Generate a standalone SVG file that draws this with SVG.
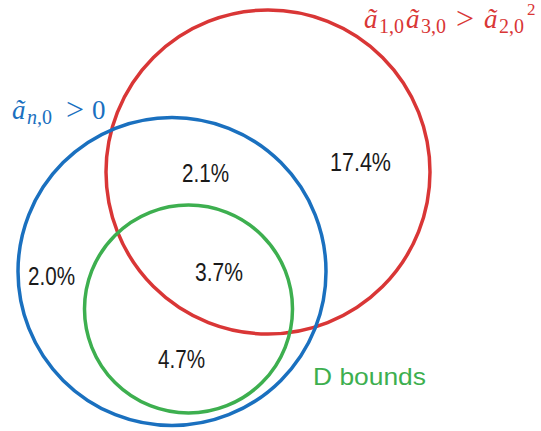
<svg xmlns="http://www.w3.org/2000/svg" width="541" height="431" viewBox="0 0 541 431">
<style>
.c{fill:none;stroke-width:3.5}
.pct{font-family:"Liberation Sans",Arial,sans-serif;font-size:25px;fill:#1a1a1a}
.m{font-family:"Liberation Serif","DejaVu Serif",serif;font-size:27px}
.i{font-style:italic}
.s{font-size:20px}
.sup{font-size:17px}
.gt{font-size:32px}
</style>
<rect width="541" height="431" fill="#ffffff"/>
<g id="red-set">
<circle class="c" cx="268" cy="172" r="162" stroke="#d93636"/>
<text class="m" fill="#d93636"><tspan class="i" x="364" y="28">ã</tspan><tspan class="s" x="379" y="33">1,0</tspan><tspan class="i" x="406" y="28">ã</tspan><tspan class="s" x="421" y="33">3,0</tspan><tspan class="gt" x="456" y="29">&gt;</tspan><tspan class="i" x="484" y="28">ã</tspan><tspan class="s" x="499" y="33">2,0</tspan><tspan class="sup" x="527" y="15">2</tspan></text>
</g>
<g id="blue-set">
<circle class="c" cx="172" cy="271.5" r="154" stroke="#1a70bf"/>
<text class="m" fill="#1a70bf"><tspan class="i" x="12" y="119">ã</tspan><tspan class="s i" x="27" y="124">n</tspan><tspan class="s">,0</tspan><tspan class="gt" x="66" y="120">&gt;</tspan><tspan x="92" y="119">0</tspan></text>
</g>
<g id="green-set">
<circle class="c" cx="188.5" cy="309" r="104" stroke="#3daf4f"/>
<text x="313" y="385" font-family="'Liberation Sans',Arial,sans-serif" font-size="24" fill="#3daf4f" textLength="113" lengthAdjust="spacingAndGlyphs">D bounds</text>
</g>
<g id="values">
<text class="pct" x="182" y="182" textLength="47" lengthAdjust="spacingAndGlyphs">2.1%</text>
<text class="pct" x="330" y="171" textLength="61" lengthAdjust="spacingAndGlyphs">17.4%</text>
<text class="pct" x="28" y="285" textLength="47" lengthAdjust="spacingAndGlyphs">2.0%</text>
<text class="pct" x="195" y="281" textLength="48" lengthAdjust="spacingAndGlyphs">3.7%</text>
<text class="pct" x="158" y="368" textLength="47" lengthAdjust="spacingAndGlyphs">4.7%</text>
</g>
</svg>
